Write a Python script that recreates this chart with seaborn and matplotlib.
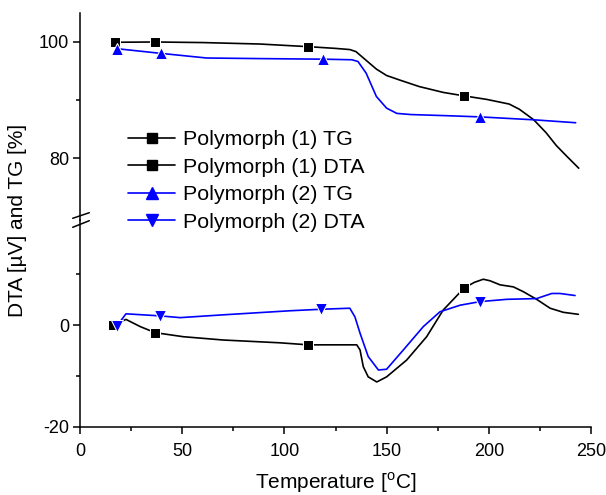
import numpy as np
import pandas as pd
import seaborn as sns
import matplotlib.pyplot as plt
from matplotlib.lines import Line2D
from matplotlib.ticker import MultipleLocator, FixedLocator

# TG curves (upper part, %)
tg1_x = [17, 36.7, 60, 88, 111.5, 125, 132, 135, 140, 145, 150, 156.6, 166, 177.7, 188, 199, 210, 215, 222, 228, 233, 238, 244]
tg1_y = [99.9, 99.95, 99.85, 99.6, 99.15, 98.85, 98.65, 98.3, 96.8, 95.3, 94.2, 93.4, 92.3, 91.3, 90.7, 90.1, 89.3, 88.4, 86.6, 84.4, 82.2, 80.4, 78.3]
tg1_marks = [0, 1, 4, 14]

tg2_x = [18, 39.5, 62, 88, 119, 133, 136, 140, 145, 150, 155, 162, 180, 195.7, 222, 242.5]
tg2_y = [98.8, 98.0, 97.2, 97.1, 97.0, 96.9, 96.6, 94.6, 90.6, 88.6, 87.7, 87.5, 87.3, 87.1, 86.6, 86.1]
tg2_marks = [0, 1, 4, 13]

# DTA curves (lower part, uV)
dta1_x = [16.3, 22.5, 29.4, 36.7, 50.5, 70, 97.8, 111.7, 125, 135.4, 137, 138.6, 141, 145.2, 150, 159.8, 169.6, 177.7, 188,
          193, 197.3, 200.6, 205.5, 212, 216.9, 223.4, 230, 236.4, 243.8]
dta1_y = [0.0, 1.1, -0.3, -1.5, -2.3, -2.95, -3.5, -3.9, -3.9, -3.9, -4.9, -8.2, -10.2, -11.2, -10.2, -6.9, -2.3, 2.95, 7.3,
          8.4, 9.0, 8.7, 7.9, 7.5, 6.55, 5.05, 3.3, 2.5, 2.1]
dta1_marks = [0, 3, 7, 18]

dta2_x = [18, 22.5, 39, 49, 70, 102.7, 118, 132, 134.5, 137, 141, 146, 150, 158.2, 168, 176.1, 186, 195.7, 208.8, 223.4, 230.8, 234.8, 242.2]
dta2_y = [-0.2, 2.2, 1.8, 1.45, 2.0, 2.8, 3.1, 3.3, 1.6, -1.6, -6.2, -8.85, -8.7, -4.9, -0.3, 2.6, 3.9, 4.6, 5.05, 5.2, 6.2, 6.2, 5.8]
dta2_marks = [0, 2, 6, 17]

labels = ["Polymorph (1) TG", "Polymorph (1) DTA", "Polymorph (2) TG", "Polymorph (2) DTA"]

sns.set_style("ticks")
plt.rcParams['font.family'] = ['Liberation Sans', 'DejaVu Sans']
plt.rcParams['mathtext.fontset'] = 'custom'
plt.rcParams['mathtext.rm'] = 'Liberation Sans'
plt.rcParams['axes.unicode_minus'] = False
plt.rcParams['text.color'] = 'black'
plt.rcParams['axes.labelcolor'] = 'black'
plt.rcParams['xtick.color'] = 'black'
plt.rcParams['ytick.color'] = 'black'
plt.rcParams['axes.edgecolor'] = 'black'

W, H = 606, 495
fig = plt.figure(figsize=(W / 100, H / 100), dpi=100)
left, right = 80 / W, 591 / W
brk = 1 - 219.5 / H
ax_lo = fig.add_axes([left, 1 - 426.7 / H, right - left, brk - (1 - 426.7 / H)])
ax_hi = fig.add_axes([left, brk, right - left, (1 - 13.3 / H) - brk])

lw = 1.2
sns.lineplot(x=tg1_x, y=tg1_y, ax=ax_hi, color="black", lw=lw, marker="s", ms=7, markevery=tg1_marks,
             estimator=None, sort=False)
sns.lineplot(x=tg2_x, y=tg2_y, ax=ax_hi, color="#0000ff", lw=lw, marker="^", ms=8, markevery=tg2_marks,
             estimator=None, sort=False)
sns.lineplot(x=dta1_x, y=dta1_y, ax=ax_lo, color="black", lw=lw, marker="s", ms=7, markevery=dta1_marks,
             estimator=None, sort=False)
sns.lineplot(x=dta2_x, y=dta2_y, ax=ax_lo, color="#0000ff", lw=lw, marker="v", ms=8, markevery=dta2_marks,
             estimator=None, sort=False)

for ax in (ax_lo, ax_hi):
    ax.set_xlim(0, 250)
    for s in ("top", "right"):
        ax.spines[s].set_visible(False)
    ax.spines["left"].set_linewidth(1.1)
    ax.spines["bottom"].set_linewidth(1.1)
    ax.tick_params(which="major", length=5, width=1.1, labelsize=13, direction="out")
    ax.tick_params(which="minor", length=3, width=1.1, direction="out")
    ax.tick_params(axis="y", pad=3)
    ax.set_ylabel("")

ax_lo.set_ylim(-20, 20.75)
ax_lo.yaxis.set_major_locator(FixedLocator([-20, 0]))
ax_lo.yaxis.set_minor_locator(FixedLocator([-10, 10]))
ax_lo.xaxis.set_major_locator(MultipleLocator(50))
ax_lo.xaxis.set_minor_locator(MultipleLocator(25))
ax_lo.tick_params(axis="x", pad=7)
ax_lo.set_xlabel(r"Temperature [$^{\mathrm{o}}$C]", fontsize=15, labelpad=7)

ax_hi.set_ylim(69.5, 104.87)
ax_hi.yaxis.set_major_locator(FixedLocator([80, 100]))
ax_hi.yaxis.set_minor_locator(FixedLocator([90]))
ax_hi.spines["bottom"].set_visible(False)
ax_hi.set_xticks([])
ax_hi.set_xlabel("")
ax_hi.patch.set_alpha(0)

fig.text(18 / W, 1 - 220 / H, "DTA [\u00b5V] and TG [%]", rotation=90, ha="center", va="center", fontsize=15)

# break marks on the y axis
for y0, y1 in [(218.3, 212.7), (227.3, 220.7)]:
    fig.add_artist(Line2D([72.7 / W, 89.3 / W], [1 - y0 / H, 1 - y1 / H], color="black", lw=1.1,
                          transform=fig.transFigure))

handles = [
    Line2D([], [], color="black", lw=lw, marker="s", ms=7),
    Line2D([], [], color="black", lw=lw, marker="s", ms=7),
    Line2D([], [], color="#0000ff", lw=lw, marker="^", ms=8),
    Line2D([], [], color="#0000ff", lw=lw, marker="v", ms=8),
]
fig.legend(handles, labels, loc="upper left", bbox_to_anchor=(128 / W, 1 - 130 / H), frameon=False,
           fontsize=15.4, handlelength=2.2, handletextpad=0.38, labelspacing=0.4, borderpad=0, borderaxespad=0,
           numpoints=1)

fig.savefig("out.png", dpi=100)
